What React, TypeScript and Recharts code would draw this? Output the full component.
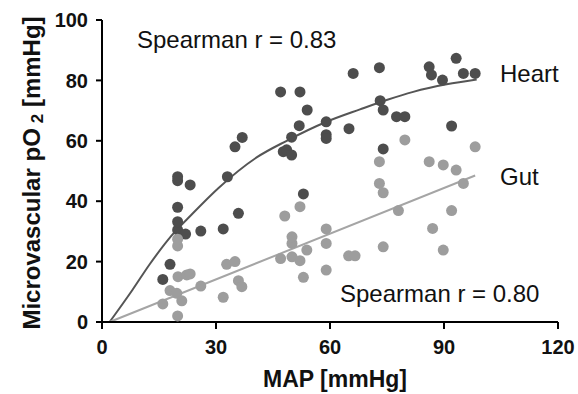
import React from 'react';
import { ComposedChart, Scatter, Line, XAxis, YAxis, Customized } from 'recharts';

// Heart (dark) points: MAP [mmHg], pO2 [mmHg]
const heartMAP = [16, 17.9, 19.9, 19.9, 19.9, 19.9, 19.9, 22, 23.2, 26, 31.9, 33, 35, 35.9, 36.9, 47, 47.7, 48.6, 49.9, 49.9, 51.9, 52.1, 53, 54, 59, 59, 59, 65, 66.1, 73, 73.2, 74, 74, 77.5, 79.7, 86.1, 86.7, 89.6, 93.2, 92, 95.1, 98.2];
const heartPO2 = [14.1, 19.1, 30.5, 33.2, 38, 46.8, 48.1, 29.1, 45.4, 30.1, 30.8, 48.1, 58, 36, 61.1, 76.2, 56.4, 57, 55.3, 61.2, 65, 76.2, 42.4, 70.2, 66.3, 62, 60.8, 64, 82.3, 84.2, 73.3, 70.2, 57.3, 68, 68, 84.5, 81.8, 80.1, 87.3, 64.9, 82.3, 82.3];

// Gut (light) points
const gutMAP = [16, 17.9, 19.7, 19.9, 19.9, 19.9, 20, 21, 22.3, 23.2, 26, 31.9, 32.8, 35, 35.9, 36.8, 47, 48.1, 50, 50, 50, 52.1, 52.1, 53, 53.9, 59, 59, 59, 64.9, 66.6, 73, 73, 74, 74, 78, 79.7, 86.1, 87, 89.8, 89.8, 92, 93.2, 95.1, 98.2];
const gutPO2 = [6, 10.4, 9.5, 2, 25.2, 27.4, 15, 7, 15.6, 15.9, 11.9, 8.2, 19.1, 20, 13.7, 11.7, 21, 35.1, 21.6, 26, 28.2, 20.3, 38.2, 14.8, 23.8, 17.2, 26, 30.8, 21.9, 21.9, 45.9, 53.1, 24.9, 42.8, 36.9, 60.3, 53.1, 31, 23.8, 52, 36.9, 50.3, 45.9, 58];

// Fitted curves
const heartFitMAP = [2, 8, 12.6, 18.3, 23.6, 30.6, 40.7, 48.6, 59.1, 67.9, 74.9, 81.9, 90.7, 98.6];
const heartFitPO2 = [0, 10.6, 19.2, 28.6, 35.6, 44.3, 54.5, 60, 66.3, 70.4, 73.5, 76.2, 78.7, 80.3];
const gutFitMAP = [2, 98.2];
const gutFitPO2 = [0, 48.5];

const xTicks = [0, 30, 60, 90, 120];
const yTicks = [0, 20, 40, 60, 80, 100];

const zip = (xs: number[], ys: number[]) => xs.map((x, i) => ({ x, y: ys[i] }));
const heartData = zip(heartMAP, heartPO2);
const gutData = zip(gutMAP, gutPO2);
const heartFit = zip(heartFitMAP, heartFitPO2);
const gutFit = zip(gutFitMAP, gutFitPO2);

const FONT = '"Liberation Sans", Arial, Helvetica, sans-serif';
const DARK = '#4d4d4d';
const LIGHT = '#9d9d9d';

const dot = (fill: string) => (props: any) => (
  <circle cx={props.cx} cy={props.cy} r={5.5} fill={fill} />
);

const Annotations = () => (
  <g fontFamily={FONT} fill="#111">
    <text x={137} y={48} fontSize={24}>Spearman r = 0.83</text>
    <text x={340} y={302} fontSize={24}>Spearman r = 0.80</text>
    <text x={500} y={82} fontSize={24}>Heart</text>
    <text x={500} y={185} fontSize={24}>Gut</text>
    <text x={335} y={387} fontSize={23} fontWeight="bold" textAnchor="middle">MAP [mmHg]</text>
    <text transform="rotate(-90)" x={-173} y={40} fontSize={24} fontWeight="bold" textAnchor="middle">
      Microvascular pO
      <tspan fontSize={17} dx={5} dy={3}>2</tspan>
      <tspan dy={-3}> [mmHg]</tspan>
    </text>
  </g>
);

export default function App() {
  return (
    <div style={{ position: 'absolute', left: 0, top: 0, background: '#fff' }}>
      <ComposedChart width={578} height={394} margin={{ top: 20, right: 20, bottom: 0, left: 0 }}>
        <XAxis
          type="number"
          dataKey="x"
          domain={[0, 120]}
          ticks={xTicks}
          height={72}
          axisLine={{ stroke: '#000', strokeWidth: 2 }}
          tickLine={{ stroke: '#000', strokeWidth: 2 }}
          tickSize={7}
          tickMargin={11}
          tick={{ fill: '#111', fontSize: 20, fontWeight: 'bold', fontFamily: FONT }}
        />
        <YAxis
          type="number"
          dataKey="y"
          domain={[0, 100]}
          ticks={yTicks}
          width={102}
          axisLine={{ stroke: '#000', strokeWidth: 2 }}
          tickLine={{ stroke: '#000', strokeWidth: 2 }}
          tickSize={6}
          tickMargin={8}
          tick={{ fill: '#111', fontSize: 20, fontWeight: 'bold', fontFamily: FONT }}
        />
        <Line data={heartFit} dataKey="y" type="monotone" stroke="#555" strokeWidth={2} dot={false} activeDot={false} isAnimationActive={false} />
        <Line data={gutFit} dataKey="y" type="linear" stroke="#a5a5a5" strokeWidth={2} dot={false} activeDot={false} isAnimationActive={false} />
        <Scatter data={heartData} dataKey="y" shape={dot(DARK)} isAnimationActive={false} />
        <Scatter data={gutData} dataKey="y" shape={dot(LIGHT)} isAnimationActive={false} />
        <Customized component={Annotations} />
      </ComposedChart>
    </div>
  );
}
